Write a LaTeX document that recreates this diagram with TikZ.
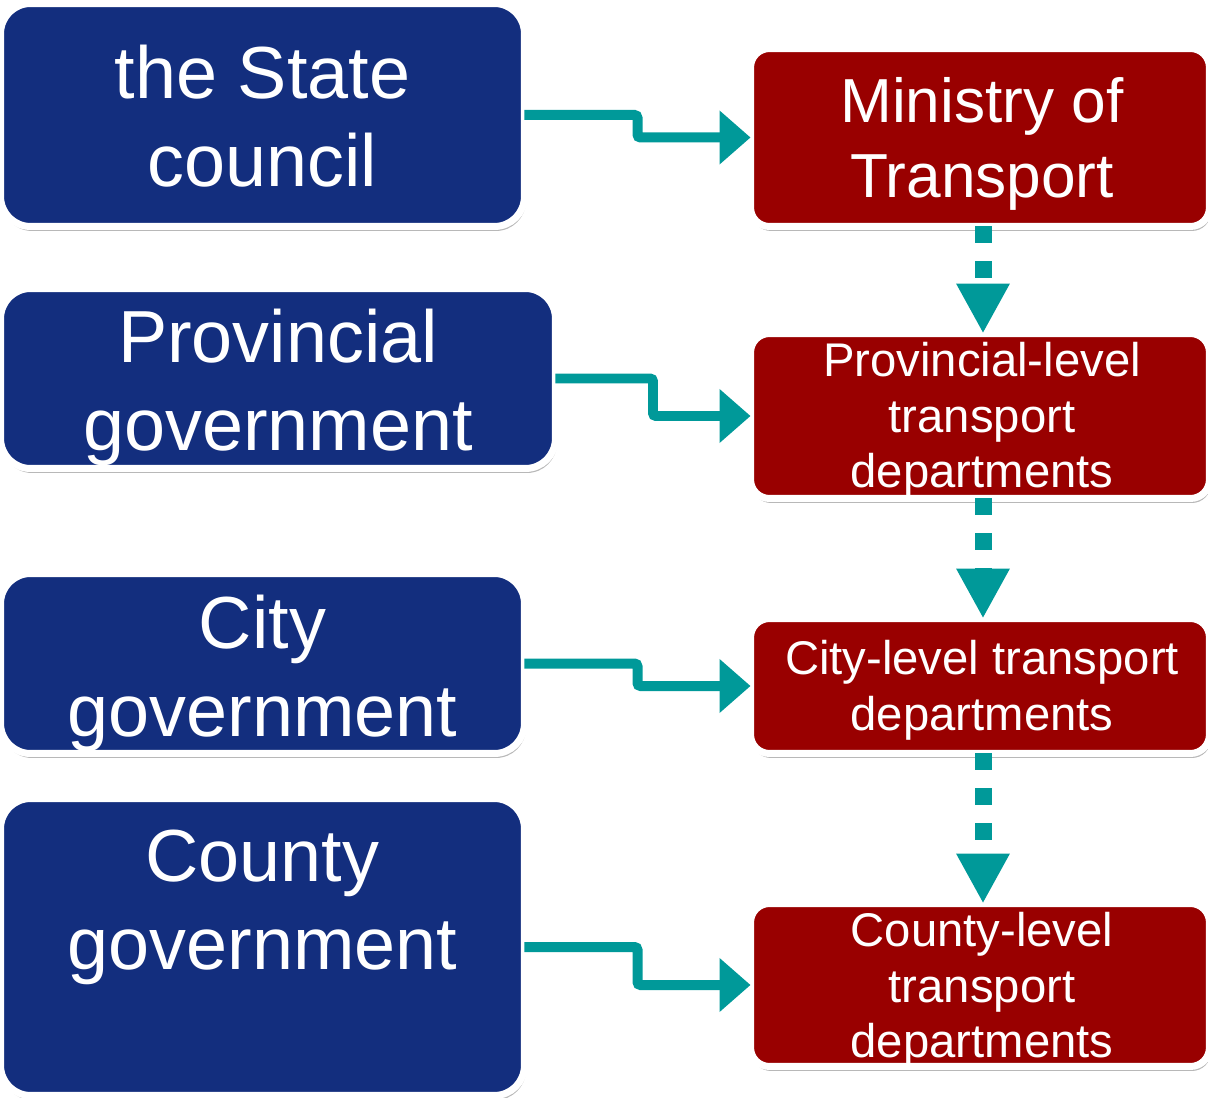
\documentclass[tikz,border=0pt]{standalone}
\usepackage{fontspec}
\setmainfont{Liberation Sans}
\usetikzlibrary{arrows.meta,shadows,calc}
\definecolor{boxblue}{RGB}{19,46,126}
\definecolor{boxred}{RGB}{153,0,0}
\definecolor{arrteal}{RGB}{0,153,153}
\begin{document}
\begin{tikzpicture}[x=0.02cm, y=-0.02cm,
  boxshadow/.style={drop shadow={shadow xshift=0.03cm, shadow yshift=-0.09cm, opacity=0.28, fill=black}},
  govbox/.style={rounded corners=0.6cm, fill=boxblue, draw=white, line width=0.14cm, inner sep=0pt, outer sep=0pt, boxshadow},
  depbox/.style={rounded corners=0.38cm, fill=boxred, draw=white, line width=0.14cm, inner sep=0pt, outer sep=0pt, boxshadow},
  bigtxt/.style={text=white, align=center, inner sep=0pt, font=\fontsize{42}{50}\selectfont},
  midtxt/.style={text=white, align=center, inner sep=0pt, font=\fontsize{35.4}{42.5}\selectfont},
  smalltxt/.style={text=white, align=center, inner sep=0pt, font=\fontsize{26.9}{31.7}\selectfont},
  conn/.style={draw=arrteal, line width=0.2cm, rounded corners=0.06cm, -{Triangle[length=0.62cm, width=1.04cm]}},
  dconn/.style={draw=arrteal, line width=0.34cm, dash pattern=on 0.34cm off 0.36cm, -{Triangle[length=1.0cm, width=1.0cm]}}
]
\useasboundingbox (0,0) rectangle (1208,1098);

% left column: governments
\node[govbox, minimum width=10.48cm, minimum height=4.46cm] (L1) at (262.5,115) {};
\node[govbox, minimum width=11.10cm, minimum height=3.60cm] (L2) at (278,378.5) {};
\node[govbox, minimum width=10.48cm, minimum height=3.60cm] (L3) at (262.5,663.5) {};
\node[govbox, minimum width=10.48cm, minimum height=5.94cm] (L4) at (262.5,947) {};

% right column: transport departments
\node[depbox, minimum width=9.18cm, minimum height=3.56cm] (R1) at (980,137.5) {};
\node[depbox, minimum width=9.18cm, minimum height=3.30cm] (R2) at (980,416) {};
\node[depbox, minimum width=9.18cm, minimum height=2.70cm] (R3) at (980,686) {};
\node[depbox, minimum width=9.18cm, minimum height=3.26cm] (R4) at (980,985) {};

% texts
\node[bigtxt] (tL1) at (262.5,116) {the State\\council};
\node[bigtxt] (tL2) at (278,387) {Provincial\\government};
\node[bigtxt] (tL3) at (262.5,673) {City\\government};
\node[bigtxt] (tL4) at (262.5,907) {County\\government};
\node[midtxt] (tR1) at (982,144) {Ministry of\\Transport};
\node[smalltxt] (tR2) at (982,420) {Provincial-level\\transport\\departments};
\node[smalltxt] (tR3) at (982,690) {City-level transport\\departments};
\node[smalltxt] (tR4) at (982,990) {County-level\\transport\\departments};

% stepped connectors
\coordinate (m1) at ($(L1.east)!.5!(R1.west)$);
\coordinate (m2) at ($(L2.east)!.5!(R2.west)$);
\coordinate (m3) at ($(L3.east)!.5!(R3.west)$);
\coordinate (m4) at ($(L4.east)!.5!(R4.west)$);
\draw[conn] (L1.east) -| (m1) |- (R1.west);
\draw[conn] (L2.east) -| (m2) |- (R2.west);
\draw[conn] (L3.east) -| (m3) |- (R3.west);
\draw[conn] (L4.east) -| (m4) |- (R4.west);

% dotted vertical connectors
\draw[dconn] ([xshift=0.06cm]R1.south) -- ([xshift=0.06cm]R2.north);
\draw[dconn] ([xshift=0.06cm]R2.south) -- ([xshift=0.06cm]R3.north);
\draw[dconn] ([xshift=0.06cm]R3.south) -- ([xshift=0.06cm]R4.north);
\end{tikzpicture}
\end{document}
